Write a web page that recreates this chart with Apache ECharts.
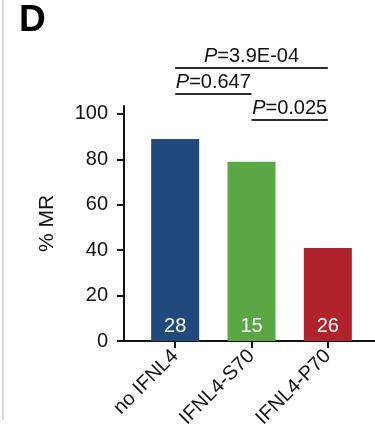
<!DOCTYPE html>
<html>
<head>
<meta charset="utf-8">
<script src="https://cdn.jsdelivr.net/npm/echarts@6/dist/echarts.min.js"></script>
<style>html,body{margin:0;padding:0;background:#fff;}#c{width:375px;height:441px;}</style>
</head>
<body>
<div id="c"></div>
<script>
var categories = ['no IFNL4', 'IFNL4-S70', 'IFNL4-P70'];
var mrPercent = [89, 79, 41];
var sampleCounts = [28, 15, 26];
var barColors = ['#21497b', '#5ba745', '#b1232b'];
var yTicks = [0, 20, 40, 60, 80, 100];
var brackets = [
  { from: 0, to: 2, level: 3, p: '3.9E-04' },
  { from: 0, to: 1, level: 2, p: '0.647' },
  { from: 1, to: 2, level: 1, p: '0.025' }
];

var FONT = 'Liberation Sans, Arial, sans-serif';
var chart = echarts.init(document.getElementById('c'), null, { renderer: 'canvas' });
var yMax = 103.5;

var option = {
  animation: false,
  textStyle: { fontFamily: FONT },
  title: {
    text: 'D', left: 14, top: -3,
    textStyle: { fontSize: 37, fontWeight: 'bold', color: '#000', fontFamily: FONT }
  },
  graphic: [{
    type: 'line', silent: true,
    shape: { x1: 3, y1: 0, x2: 3, y2: 420 },
    style: { stroke: '#d9d9d9', lineWidth: 2 }
  }],
  grid: [
    { left: 137, right: 9, top: 106, bottom: 100 },
    { left: 124, right: 0, top: 106, bottom: 100 },
    { left: 137, right: 9, top: 68, bottom: 295 }
  ],
  xAxis: [
    {
      type: 'category', gridIndex: 0, data: categories,
      axisLine: { show: false },
      axisTick: { show: true, alignWithLabel: true, length: 7, lineStyle: { color: '#111', width: 2 } },
      axisLabel: { rotate: 45, fontSize: 20, margin: 12, color: '#111', fontFamily: FONT }
    },
    {
      type: 'value', gridIndex: 1, min: 0, max: 1,
      axisLine: { show: true, lineStyle: { color: '#111', width: 2 } },
      axisTick: { show: false }, axisLabel: { show: false }, splitLine: { show: false }
    },
    {
      type: 'category', gridIndex: 2, data: categories, show: false
    }
  ],
  yAxis: [
    { type: 'value', gridIndex: 0, min: 0, max: yMax, show: false, splitLine: { show: false } },
    {
      type: 'value', gridIndex: 1, min: 0, max: yMax,
      name: '% MR', nameLocation: 'middle', nameGap: 66, nameRotate: 90,
      nameTextStyle: { fontSize: 21, color: '#111', fontFamily: FONT },
      axisLine: { show: true, onZero: false, lineStyle: { color: '#111', width: 2 } },
      axisTick: { show: true, length: 7, customValues: yTicks, lineStyle: { color: '#111', width: 2 } },
      axisLabel: { customValues: yTicks, fontSize: 20, margin: 16, color: '#111', fontFamily: FONT },
      splitLine: { show: false }
    },
    { type: 'value', gridIndex: 2, min: 0, max: 3, show: false, splitLine: { show: false } }
  ],
  series: [
    {
      type: 'bar', xAxisIndex: 0, yAxisIndex: 0, barWidth: 48,
      data: mrPercent.map(function (v, i) { return { value: v, itemStyle: { color: barColors[i] } }; }),
      label: {
        show: true, position: 'insideBottom', distance: 5, color: '#fff', fontSize: 20,
        fontFamily: FONT,
        formatter: function (p) { return String(sampleCounts[p.dataIndex]); }
      },
      silent: true
    },
    {
      type: 'line', xAxisIndex: 2, yAxisIndex: 2, data: ['-', '-', '-'], symbol: 'none', silent: true,
      markLine: {
        silent: true, symbol: ['none', 'none'], animation: false,
        lineStyle: { color: '#2b2b2b', width: 2, type: 'solid' },
        emphasis: { disabled: true },
        label: {
          show: true, position: 'insideMiddleTop', distance: 2, color: '#111',
          fontSize: 20, fontFamily: FONT,
          rich: { i: { fontStyle: 'italic', fontSize: 20, color: '#111', fontFamily: FONT }, n: { fontSize: 20, color: '#111', fontFamily: FONT } }
        },
        data: brackets.map(function (b) {
          return [
            { coord: [b.from, b.level], label: { formatter: '{i|P}{n|=' + b.p + '}' } },
            { coord: [b.to, b.level] }
          ];
        })
      }
    }
  ]
};
chart.setOption(option);
</script>
</body>
</html>
